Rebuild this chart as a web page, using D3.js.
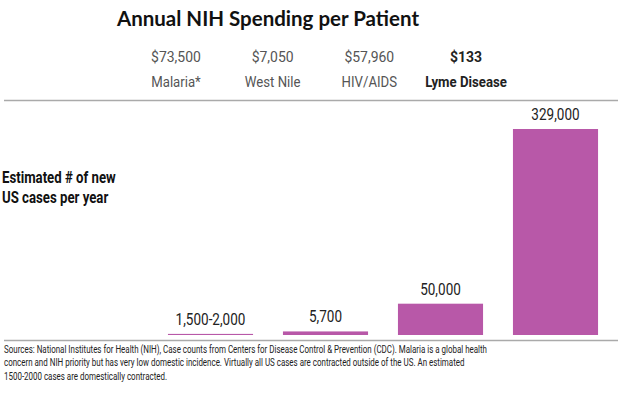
<!DOCTYPE html>
<html>
<head>
<meta charset="utf-8">
<script src="https://cdn.jsdelivr.net/npm/d3@7"></script>
<style>
  body { margin: 0; background: #fff; }
  svg text { font-family: "Roboto", sans-serif; }
</style>
</head>
<body>
<div id="chart"></div>
<script>
// data
var diseases = ["Malaria*", "West Nile", "HIV/AIDS", "Lyme Disease"];
var spending = ["$73,500", "$7,050", "$57,960", "$133"];
var cases = [1750, 5700, 50000, 329000];
var caseLabels = ["1,500-2,000", "5,700", "50,000", "329,000"];
var footnote = [
    "Sources: National Institutes for Health (NIH), Case counts from Centers for Disease Control & Prevention (CDC). Malaria is a global health",
    "concern and NIH priority but has very low domestic incidence.  Virtually all US cases are contracted outside of the US.  An estimated",
    "1500-2000 cases are domestically contracted."
];

var width = 624, height = 394,
    baseY = 335;

// no condensed font installed, so squeeze text horizontally
function squeeze(x, y, k) {
    return "translate(" + x + "," + y + ") scale(" + k + ",1)";
}

var svg = d3.select("#chart").append("svg")
    .attr("width", width)
    .attr("height", height);

// title
svg.append("text")
    .attr("x", 268)
    .attr("y", 26)
    .attr("text-anchor", "middle")
    .style("font-family", "Lato, sans-serif")
    .style("font-weight", "bold")
    .style("font-size", "20.5px")
    .style("fill", "#111")
    .text("Annual NIH Spending per Patient");

// header labels (spending + disease)
var headX = d3.scalePoint().domain(diseases).range([176, 466]);

var head = svg.append("g").selectAll("g")
    .data(diseases)
    .enter().append("g")
    .attr("transform", function (d) { return "translate(" + headX(d) + ",0)"; });

head.append("text")
    .attr("transform", squeeze(0, 62, 0.9))
    .attr("text-anchor", "middle")
    .style("font-size", "15.5px")
    .style("font-weight", function (d, i) { return i == 3 ? "bold" : "normal"; })
    .style("fill", function (d, i) { return i == 3 ? "#222" : "#555"; })
    .text(function (d, i) { return spending[i]; });

head.append("text")
    .attr("transform", squeeze(0, 87, 0.88))
    .attr("text-anchor", "middle")
    .style("font-size", "15px")
    .style("font-weight", function (d, i) { return i == 3 ? "bold" : "normal"; })
    .style("fill", function (d, i) { return i == 3 ? "#222" : "#555"; })
    .text(function (d) { return d; });

// separator lines
svg.append("line")
    .attr("x1", 4).attr("x2", 618)
    .attr("y1", 100.5).attr("y2", 100.5)
    .style("stroke", "#aaa").style("stroke-width", 1.5);

svg.append("line")
    .attr("x1", 4).attr("x2", 618)
    .attr("y1", 340.5).attr("y2", 340.5)
    .style("stroke", "#aaa").style("stroke-width", 1.5);

// y label
var ylab = svg.append("text")
    .attr("transform", squeeze(2, 183, 0.8))
    .style("font-size", "16.5px")
    .style("font-weight", "bold")
    .style("fill", "#111");
ylab.append("tspan").attr("x", 0).text("Estimated # of new");
ylab.append("tspan").attr("x", 0).attr("dy", 20).text("US cases per year");

// bars
var xScale = d3.scaleBand()
    .domain(diseases)
    .range([153, 613])
    .paddingInner(0.26)
    .paddingOuter(0.13);

var yScale = d3.scaleLinear()
    .domain([0, 329000])
    .range([baseY, 129]);

var bars = svg.append("g").selectAll(".bar")
    .data(diseases)
    .enter();

bars.append("rect")
    .attr("class", "bar")
    .attr("x", function (d) { return xScale(d); })
    .attr("y", function (d, i) { return yScale(cases[i]); })
    .attr("width", xScale.bandwidth())
    .attr("height", function (d, i) { return Math.max(1, baseY - yScale(cases[i])); })
    .style("fill", "#b858a8");

bars.append("text")
    .attr("transform", function (d, i) {
        return squeeze(xScale(d) + xScale.bandwidth() / 2, yScale(cases[i]) - 9, 0.82);
    })
    .attr("text-anchor", "middle")
    .style("font-size", "16.5px")
    .style("fill", "#222")
    .text(function (d, i) { return caseLabels[i]; });

// footnote
var foot = svg.append("g");
foot.selectAll("text")
    .data(footnote)
    .enter().append("text")
    .attr("x", 0)
    .attr("y", function (d, i) { return i * 13.5; })
    .style("font-size", "11.8px")
    .style("fill", "#222")
    .text(function (d) { return d; });

var w0 = foot.select("text").node().getComputedTextLength();
foot.attr("transform", squeeze(4, 353, 484 / w0));
</script>
</body>
</html>
